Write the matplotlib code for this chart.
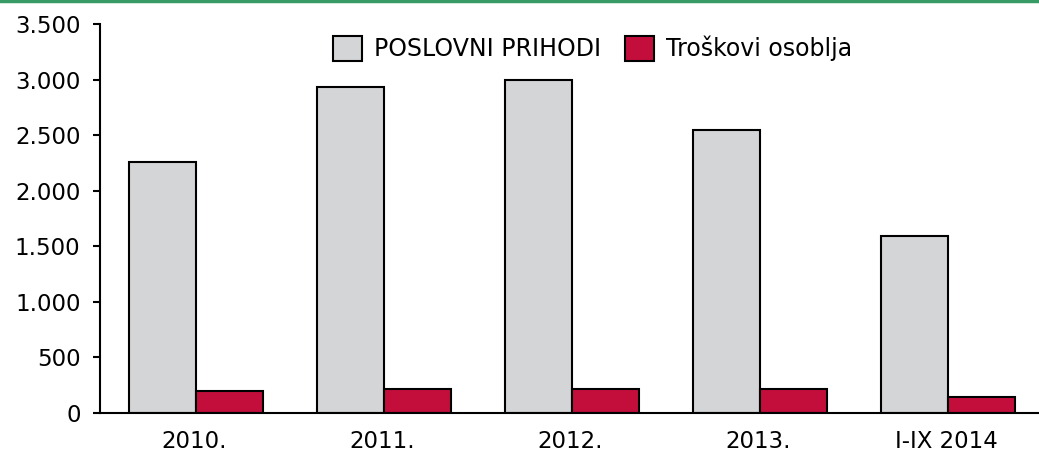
import numpy as np
import matplotlib.pyplot as plt
from matplotlib.lines import Line2D

categories = ['2010.', '2011.', '2012.', '2013.', 'I-IX 2014']
prihodi = [2260, 2935, 2995, 2550, 1595]
troskovi = [200, 218, 218, 218, 145]
yticks = [0, 500, 1000, 1500, 2000, 2500, 3000, 3500]


def fmt(v):
    return f'{v:,}'.replace(',', '.')


fig = plt.figure(figsize=(10.39, 4.61), dpi=100)
ax = fig.add_axes([100 / 1039, 48 / 461, 940 / 1039, 389 / 461])

x = np.arange(len(categories))
w = 0.355
ax.bar(x - w / 2 + 0.01, prihodi, w, color='#d4d5d7', edgecolor='black', linewidth=1.5,
       label='POSLOVNI PRIHODI')
ax.bar(x + w / 2 + 0.01, troskovi, w, color='#c30e3c', edgecolor='black', linewidth=1.5,
       label='Troškovi osoblja')

ax.set_xlim(-0.5, len(categories) - 0.5)
ax.set_ylim(0, 3500)
ax.set_yticks(yticks)
ax.set_yticklabels([fmt(v) for v in yticks])
ax.set_xticks(x)
ax.set_xticklabels(categories)
ax.tick_params(axis='y', labelsize=16.5, length=5, width=1.5, direction='out', pad=9)
ax.tick_params(axis='x', labelsize=16.5, length=0, pad=12)
for s in ['top', 'right']:
    ax.spines[s].set_visible(False)
for s in ['left', 'bottom']:
    ax.spines[s].set_linewidth(1.5)

ax.legend(loc='upper left', bbox_to_anchor=(0.225, 1.025), ncol=2, frameon=False,
          fontsize=17, handlelength=1.25, handleheight=1.25, columnspacing=1.0,
          handletextpad=0.5)

fig.add_artist(Line2D([0, 1], [0.998, 0.998], transform=fig.transFigure,
                      color='#389a64', linewidth=2.5))

fig.savefig('out.png', dpi=100)
